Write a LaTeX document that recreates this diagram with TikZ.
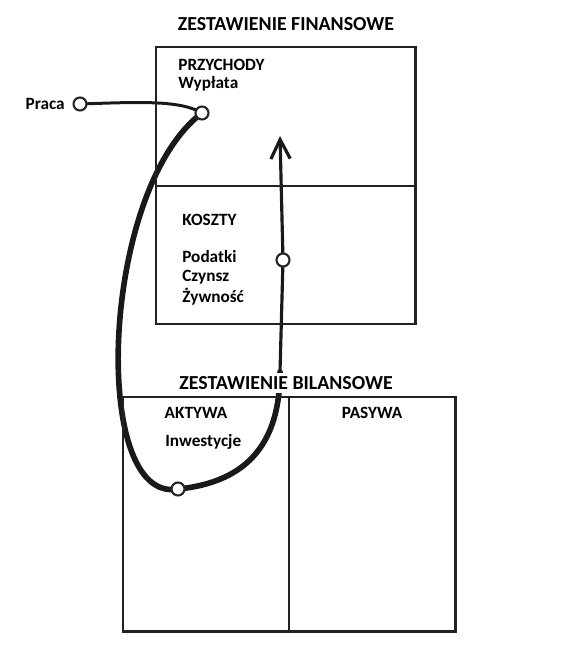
\documentclass[tikz,border=0pt]{standalone}
\usepackage{fontspec}
\setmainfont{Carlito}
\usetikzlibrary{arrows.meta,backgrounds}
\definecolor{frame}{RGB}{34,34,34}
\tikzset{
  panel/.style={draw=frame, line width=1.7pt},
  lbl/.style={font=\fontsize{9.8}{11}\selectfont\bfseries, inner sep=0pt},
  hdr/.style={font=\fontsize{11.3}{13}\selectfont\bfseries, fill=white, inner sep=2pt},
  knot/.style={circle, draw=black!85, fill=white, line width=1.2pt,
               minimum size=0.26cm, inner sep=0pt},
  flow/.style={black!90, line width=3.2pt, line cap=round},
  feed/.style={black!90, line width=1.7pt, line cap=round},
  riser/.style={black!90, line width=1.8pt, -{Straight Barb[length=11pt,width=11pt]}},
}

\begin{document}
\begin{tikzpicture}[x=0.02cm, y=-0.02cm]
  \useasboundingbox (0,0) rectangle (577,648);
  % --- zestawienie finansowe
  \draw[panel] (156,47) rectangle (415,324);
  \draw[panel] (156,186) -- (415,186);
  \node[hdr] (fin) at (286,24) {ZESTAWIENIE FINANSOWE};
  \node[lbl, anchor=west] (przych) at (178,65) {PRZYCHODY};
  \node[lbl, anchor=west] (wypl) at (178,84) {Wypłata};
  \node[lbl, anchor=west] (koszty) at (182,220) {KOSZTY};
  \node[lbl, anchor=west] (podatki) at (182,257) {Podatki};
  \node[lbl, anchor=west] (czynsz) at (182,277) {Czynsz};
  \node[lbl, anchor=west] (zywn) at (182,297) {Żywność};
  % --- zestawienie bilansowe
  \draw[panel] (123,397) rectangle (455,631);
  \draw[panel] (289,397) -- (289,631);
  \node[lbl] (aktywa) at (196,413) {AKTYWA};
  \node[lbl, anchor=west] (inwest) at (165,442) {Inwestycje};
  \node[lbl] (pasywa) at (372,413) {PASYWA};
  \node[lbl, anchor=east] (praca) at (65,104) {Praca};
  % --- punkty przeplywu
  \node[knot] (pc) at (80,104) {};
  \node[knot] (wc) at (202,113) {};
  \node[knot] (kc) at (283,260) {};
  \node[knot] (ic) at (178,489) {};
  \coordinate (bend) at (280,372);
  \coordinate (top) at (280,136);
  \begin{pgfonlayer}{background}
    \draw[feed] (pc.center) .. controls (140,102) and (180,100) .. (wc.center);
    \draw[flow] (wc.center) .. controls (100,190) and (90,505) .. (ic.center);
    \draw[flow] (ic.center) .. controls (250,482) and (280,440) .. (bend);
    \draw[riser] (bend) -- (kc.center) -- (top);
  \end{pgfonlayer}
  \node[hdr] (bil) at (286,383) {ZESTAWIENIE BILANSOWE};
\end{tikzpicture}
\end{document}
